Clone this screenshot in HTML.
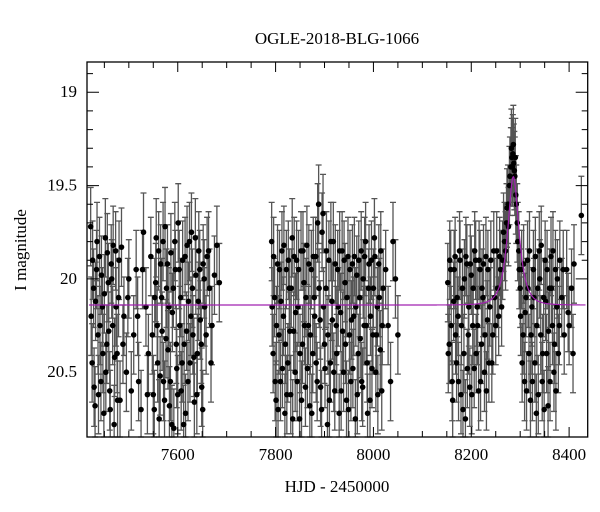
<!DOCTYPE html>
<html><head><meta charset="utf-8"><style>
html,body{margin:0;padding:0;background:#fff;}
svg{display:block;font-family:"Liberation Serif",serif;}
</style></head><body>
<svg id="chart" width="600" height="512" viewBox="0 0 600 512" xmlns="http://www.w3.org/2000/svg">
<text x="337" y="44" text-anchor="middle" font-size="17">OGLE-2018-BLG-1066</text>
<text x="337" y="492" text-anchor="middle" font-size="17">HJD - 2450000</text>
<text x="26" y="250" text-anchor="middle" font-size="17" transform="rotate(-90 26 250)">I magnitude</text>
<g id="marks"></g>
<rect x="87" y="62" width="500.7" height="375" fill="none" stroke="#000" stroke-width="1.3"/>
<g id="ticks"></g>
</svg>
<script>
const seasonTimes = [7422,7425,7428,7431,7434,7437,7440,7443,7446,7449,7452,7455,7458,7461,7464,7467,7470,7473,7476,7479,7482,7485,7490,7495,7500,7510,7515,7520,7525,7530,7535,7540,7545,7550,7553,7556,7559,7562,7565,7568,7571,7574,7577,7580,7583,7586,7589,7592,7595,7598,7601,7604,7607,7610,7613,7616,7619,7622,7625,7628,7631,7634,7637,7640,7643,7646,7649,7652,7655,7660,7665,7670,7675,7680,7685,
7792,7795,7798,7801,7804,7807,7810,7813,7816,7819,7822,7825,7828,7831,7834,7837,7840,7843,7846,7849,7852,7855,7858,7861,7864,7867,7870,7873,7876,7879,7882,7885,7888,7891,7894,7897,7900,7903,7906,7909,7912,7915,7918,7921,7924,7927,7930,7933,7936,7939,7942,7945,7948,7951,7954,7957,7960,7963,7966,7969,7972,7975,7978,7981,7984,7987,7990,7993,7996,7999,8002,8005,8008,8011,8014,8017,8020,8025,8030,8035,8040,8045,8050,
8152,8155,8158,8161,8164,8167,8170,8173,8176,8179,8182,8185,8188,8191,8194,8197,8200,8203,8206,8209,8212,8215,8218,8221,8224,8227,8230,8233,8236,8240,8244,8248,8252,8256,8260,8264,8268,8272,8275,8278,8281,8283,8285,8287,8289,8291,8294,8297,8300,8303,8306,8309,8312,8315,8318,8321,8324,8327,8330,8333,8336,8339,8342,8345,8348,8351,8354,8357,8360,8363,8366,8369,8372,8375,8378,8381,8385,8390,8395,8400,8405,8410,8425];
const seasonMags = [19.72,20.45,20.05,20.68,19.95,20.30,19.88,20.55,20.15,20.72,19.78,20.35,20.02,20.60,19.92,20.25,20.78,19.85,20.40,20.10,20.65,19.83,20.20,20.50,20.00,20.30,19.95,20.55,20.70,19.75,20.15,20.40,19.88,20.62,20.10,19.78,20.45,20.75,19.92,20.28,20.55,19.72,20.05,20.38,20.68,19.86,20.18,20.80,19.95,20.48,19.70,20.25,20.60,19.90,20.35,20.72,19.82,20.12,20.45,19.75,20.30,20.66,19.98,20.40,19.85,20.22,20.58,19.92,20.15,19.88,20.05,20.25,19.98,19.82,20.02,
19.80,20.40,20.10,20.65,19.92,20.30,20.55,19.85,20.20,20.72,19.95,20.45,20.05,20.62,19.78,20.28,20.50,19.90,20.15,20.75,19.85,20.35,20.02,20.58,19.82,20.25,20.68,19.95,20.40,20.10,19.88,20.55,19.60,20.22,20.70,19.65,20.35,20.05,20.78,19.90,20.45,20.12,19.80,20.60,20.25,19.95,20.72,20.18,19.85,20.50,20.02,20.65,19.88,20.30,20.55,19.92,20.20,20.75,19.98,20.40,20.10,19.85,20.58,20.25,19.80,20.45,20.05,20.65,19.90,20.30,19.78,20.50,20.15,19.92,20.38,20.60,20.05,19.95,20.25,20.55,19.80,20.00,20.30,
20.02,20.35,19.95,20.55,20.12,19.88,20.45,20.20,19.85,20.62,20.05,20.40,20.75,19.92,20.30,20.58,19.98,20.25,20.48,19.90,20.15,20.60,19.95,20.35,20.10,20.50,19.88,20.22,20.45,19.90,20.30,20.10,19.85,20.20,19.95,19.90,19.80,19.70,19.60,19.50,19.40,19.35,19.33,19.38,19.45,19.55,19.70,19.85,20.05,19.95,20.30,20.55,20.10,19.90,20.40,20.65,20.15,19.95,20.45,20.72,20.05,19.85,20.30,20.55,20.10,19.90,20.40,20.68,20.05,19.88,20.25,20.50,19.95,20.15,20.40,19.90,20.10,20.30,19.95,20.25,20.05,19.92,19.66];
const extraTimes = [7423,7426,7429,7432,7435,7438,7441,7444,7447,7450,7453,7456,7459,7462,7465,7468,7471,7474,7477,7480,7488,7498,7505,7518,7528,7538,7548,7552,7555,7558,7561,7564,7567,7570,7573,7576,7579,7582,7585,7588,7591,7594,7597,7600,7603,7606,7609,7612,7615,7618,7621,7624,7627,7630,7633,7636,7639,7642,7645,7648,7651,7654,7658,7663,7668,
7793,7796,7799,7802,7805,7808,7811,7814,7817,7820,7823,7826,7829,7832,7835,7838,7841,7844,7847,7850,7853,7856,7859,7862,7865,7868,7871,7874,7877,7880,7883,7886,7889,7892,7895,7898,7901,7904,7907,7910,7913,7916,7919,7922,7925,7928,7931,7934,7937,7940,7943,7946,7949,7952,7955,7958,7961,7964,7967,7970,7973,7976,7979,7982,7985,7988,7991,7994,7997,8000,8003,8006,8009,8012,8015,8018,
8153,8156,8159,8162,8165,8168,8171,8174,8177,8180,8183,8186,8189,8192,8195,8198,8201,8204,8207,8210,8213,8216,8219,8222,8225,8228,8231,8234,8238,8242,8246,8250,8254,8258,8262,8266,8270,8273,8276,8279,8282,8284,8286,8288,8290,8292,8295,8298,8301,8304,8307,8310,8313,8316,8319,8322,8325,8328,8331,8334,8337,8340,8343,8346,8349,8352,8355,8358,8361,8364,8367,8370,8373,8376,8380,8388,8398,8408];
const extraMags = [20.20,19.90,20.58,20.12,19.80,20.62,20.25,19.98,20.40,20.08,20.50,19.86,20.28,20.70,20.00,19.82,20.42,20.15,20.65,19.90,20.35,20.10,20.60,20.20,19.95,20.62,20.30,20.70,20.02,20.25,19.85,20.52,20.10,19.80,20.65,20.32,19.92,20.15,20.55,20.78,20.05,19.80,20.35,20.62,19.95,20.10,20.45,20.78,19.88,20.28,20.55,19.80,20.20,20.05,20.42,19.78,20.62,20.12,19.95,20.35,20.70,20.00,20.30,19.85,20.45,
20.15,19.88,20.55,20.25,20.70,19.95,20.12,20.48,19.82,20.35,20.62,19.90,20.28,20.05,20.75,19.88,20.18,20.55,19.95,20.40,20.65,19.85,20.25,20.10,20.48,19.92,20.30,20.72,19.88,20.20,20.45,19.70,20.05,20.58,19.75,20.15,20.48,19.85,20.30,20.65,19.80,20.22,20.50,19.92,20.40,20.15,19.85,20.60,20.28,19.90,20.35,20.10,20.70,19.95,20.22,20.48,19.88,20.15,20.62,19.90,20.32,20.55,20.00,19.88,20.25,20.72,19.92,20.20,20.48,20.05,19.88,20.30,20.62,20.10,19.85,20.25,
20.40,19.90,20.25,20.65,19.95,20.30,20.10,20.55,19.90,20.25,20.70,20.00,19.88,20.48,20.15,19.92,20.62,20.05,19.85,20.40,20.25,19.90,20.55,20.05,19.92,20.30,20.60,19.95,20.15,20.45,19.85,20.25,20.05,19.88,20.15,19.75,19.85,19.62,19.72,19.45,19.30,19.40,19.28,19.42,19.35,19.60,19.80,19.95,20.20,20.45,19.92,20.18,20.60,20.05,19.85,20.30,20.55,20.10,19.88,20.25,20.62,20.00,19.82,20.40,20.70,20.12,19.95,20.28,20.55,20.05,19.85,20.35,20.60,20.00,20.25,19.95,20.18,20.40];
const xTickLabels = [7600,7800,8000,8200,8400];
const yTickLabels = [19,19.5,20,20.5];
const modelBaseline = [20.14];
const modelT0 = [8286];
const modelU0 = [0.6];
const modelTE = [18];

const X0=87,X1=587.7,Y0=62,Y1=437;
const xMin=7414.5,xMax=8438,yMin=18.838,yMax=20.847;
const xs=t=>X0+(t-xMin)/(xMax-xMin)*(X1-X0);
const ys=m=>Y0+(m-yMin)/(yMax-yMin)*(Y1-Y0);
const NS="http://www.w3.org/2000/svg";
const marks=document.getElementById('marks');
const ticks=document.getElementById('ticks');
function mk(tag,attrs,parent){const e=document.createElementNS(NS,tag);for(const k in attrs)e.setAttribute(k,attrs[k]);parent.appendChild(e);return e;}
const allT=seasonTimes.concat(extraTimes);
const allM=seasonMags.concat(extraMags);
const errHalf=0.21;
const bars=mk('g',{stroke:'#555','stroke-width':1.3},marks);


for(let i=0;i<allT.length;i++){
  const x=xs(allT[i]);
  const a=Math.max(Y0,ys(allM[i]-errHalf)),b=Math.min(Y1,ys(allM[i]+errHalf));
  const l=mk('path',{d:`M${x},${a}V${b}M${x-3},${a}h6M${x-3},${b}h6`,fill:'none'},bars);
  
  
}
const pts=mk('g',{fill:'#000'},marks);


for(let i=0;i<allT.length;i++){
  const c=mk('circle',{cx:xs(allT[i]),cy:ys(allM[i]),r:2.8},pts);
  
  
}
let d='';
for(let px=X0+2;px<=X1-2;px+=0.5){
  const t=xMin+(px-X0)/(X1-X0)*(xMax-xMin);
  const tau=(t-modelT0[0])/modelTE[0];
  const u=Math.sqrt(modelU0[0]*modelU0[0]+tau*tau);
  const A=(u*u+2)/(u*Math.sqrt(u*u+4));
  const m=modelBaseline[0]-2.5*Math.log10(A);
  d+=(d?'L':'M')+px.toFixed(1)+','+ys(m).toFixed(2);
}
const model=mk('path',{d:d,fill:'none',stroke:'#a020b0','stroke-width':1.2},marks);


for(let t=7450;t<=8400;t+=50){
  const x=xs(t),major=t%200===0,L=major?10:6;
  const tk=mk('path',{d:`M${x},${Y1}v${-L}M${x},${Y0}v${L}`,stroke:'#000','stroke-width':1},ticks);
  
  
}
for(const v of xTickLabels){
  const tx=mk('text',{x:xs(v),y:Y1+23,'text-anchor':'middle','font-size':17},ticks);
  tx.textContent=v;
  
  
}
for(let k=9;k<=20;k++){
  const m=k/10+18;const y=ys(m);const major=k%5===0;const L=major?12:6;
  const tk=mk('path',{d:`M${X0},${y}h${L}M${X1},${y}h${-L}`,stroke:'#000','stroke-width':1},ticks);
  
  
}
for(const v of yTickLabels){
  const tx=mk('text',{x:X0-10,y:ys(v)+5,'text-anchor':'end','font-size':17},ticks);
  tx.textContent=v;
  
  
}
</script>
</body></html>
